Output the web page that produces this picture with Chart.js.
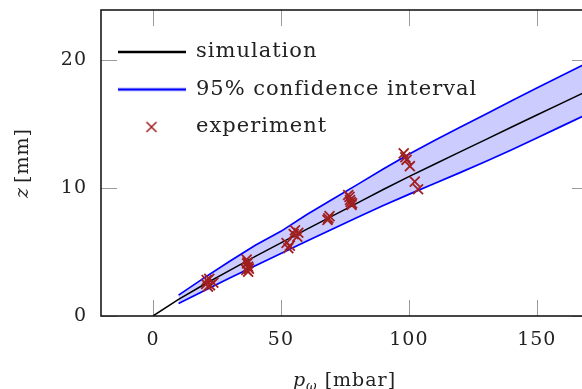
<!DOCTYPE html>
<html>
<head>
<meta charset="utf-8">
<script src="https://cdn.jsdelivr.net/npm/chart.js@4.4.1/dist/chart.umd.min.js"></script>
<style>
  html, body { margin: 0; padding: 0; background: #fff; overflow: hidden; }
  #zchart { display: block; }
</style>
</head>
<body>
<canvas id="zchart" width="600" height="389"></canvas>
<script>
// simulated height over pressure
const simP = [0, 10, 20, 30, 40, 50, 60, 70, 80, 90, 100, 110, 120, 130, 140, 150, 160, 170];
const simZ = [0, 1.30, 2.46, 3.57, 4.65, 5.71, 6.76, 7.80, 8.83, 9.88, 10.88, 11.85, 12.82, 13.78, 14.74, 15.70, 16.65, 17.60];

// 95% band (starts at 10 mbar)
const ciP = [10, 20, 30, 40, 50, 60, 70, 80, 90, 100, 110, 120, 130, 140, 150, 160, 170];
const ciUpper = [1.63, 2.98, 4.27, 5.52, 6.61, 7.91, 9.10, 10.28, 11.48, 12.63, 13.70, 14.74, 15.76, 16.79, 17.80, 18.80, 19.80];
const ciLower = [0.98, 1.98, 2.97, 3.93, 4.89, 5.84, 6.78, 7.71, 8.63, 9.50, 10.35, 11.20, 12.06, 12.96, 13.90, 14.85, 15.80];

// measurements
const expP = [21.0, 22.3, 23.6, 21.5, 22.0, 20.8,
              36.6, 37.2, 37.2, 36.8, 37.5, 36.5, 37.0,
              55.5, 56.4, 52.2, 52.9, 55.0, 56.8, 53.5,
              68.5, 69.0, 68.2,
              76.3, 77.0, 77.6, 76.8, 77.3, 77.8,
              98.0, 98.6, 99.1, 100.4, 102.3, 103.6];
const expZ = [2.8, 2.4, 2.6, 2.3, 2.9, 2.5,
              4.4, 3.85, 3.46, 4.1, 3.7, 3.6, 4.2,
              6.7, 6.2, 5.7, 5.3, 6.4, 6.5, 5.5,
              7.63, 7.8, 7.5,
              9.45, 9.06, 8.67, 9.3, 8.9, 8.8,
              12.7, 12.4, 12.2, 11.7, 10.5, 9.9];

const xTicks = [0, 50, 100, 150];
const yTicks = [0, 10, 20];

const serif = 'DejaVu Serif';
const textColor = '#222';
const expColor = '#a01f1f';
const bandFill = 'rgb(204,204,255)';
const tickLen = 16;

function pts(xs, ys) {
    return xs.map(function(v, i) { return { x: v, y: ys[i] }; });
}

// small pictures for the legend
function lineSample(color) {
    let c = document.createElement('canvas');
    c.width = 68; c.height = 6;
    let g = c.getContext('2d');
    g.strokeStyle = color; g.lineWidth = 2.4;
    g.beginPath(); g.moveTo(0, 3); g.lineTo(68, 3); g.stroke();
    return c;
}
function crossSample(color) {
    let c = document.createElement('canvas');
    c.width = 16; c.height = 16;
    let g = c.getContext('2d');
    g.strokeStyle = color; g.lineWidth = 1.5;
    g.beginPath();
    g.moveTo(3, 3); g.lineTo(13, 13);
    g.moveTo(13, 3); g.lineTo(3, 13);
    g.stroke();
    return c;
}

// the reference lettering runs wide; chart.js resets the canvas on init,
// so put the spacing back before measuring and before drawing
const spacingPlugin = {
    id: 'spacing',
    beforeUpdate(chart) { chart.ctx.letterSpacing = '1px'; },
    beforeDraw(chart) { chart.ctx.letterSpacing = '1px'; }
};

const framePlugin = {
    id: 'frame',
    beforeDatasetsDraw(chart) {
        let ctx = chart.ctx, a = chart.chartArea;
        let x = chart.scales.x, y = chart.scales.y;
        ctx.save();
        ctx.strokeStyle = '#9a9a9a';
        ctx.lineWidth = 1;
        ctx.beginPath();
        xTicks.forEach(function(v) {
            let px = Math.round(x.getPixelForValue(v)) + 0.5;
            ctx.moveTo(px, a.bottom); ctx.lineTo(px, a.bottom - tickLen);
            ctx.moveTo(px, a.top); ctx.lineTo(px, a.top + tickLen);
        });
        yTicks.forEach(function(v) {
            let py = Math.round(y.getPixelForValue(v)) + 0.5;
            ctx.moveTo(a.left, py); ctx.lineTo(a.left + tickLen, py);
            ctx.moveTo(a.right, py); ctx.lineTo(a.right - tickLen, py);
        });
        ctx.stroke();
        ctx.restore();
    },
    afterDatasetsDraw(chart) {
        let ctx = chart.ctx, a = chart.chartArea;
        ctx.save();
        ctx.strokeStyle = '#1a1a1a';
        ctx.lineWidth = 1.6;
        ctx.strokeRect(a.left, a.top, a.right - a.left, a.bottom - a.top);

        ctx.fillStyle = textColor;
        ctx.textBaseline = 'alphabetic';
        ctx.textAlign = 'left';

        // x title: p_omega [mbar]
        let fMain = '19px "' + serif + '"';
        let fItal = 'italic 19px "' + serif + '"';
        let fSub = 'italic 13px "' + serif + '"';
        ctx.font = fItal; let wP = ctx.measureText('p').width;
        ctx.font = fSub; let wW = ctx.measureText('ω').width;
        ctx.font = fMain; let wU = ctx.measureText(' [mbar]').width;
        let cx = (a.left + a.right) / 2;
        let sx = cx - (wP + wW + wU) / 2;
        let base = 386;
        ctx.font = fItal; ctx.fillText('p', sx, base);
        ctx.font = fSub; ctx.fillText('ω', sx + wP, base + 4);
        ctx.font = fMain; ctx.fillText(' [mbar]', sx + wP + wW, base);

        // y title: z [mm]
        ctx.translate(28, (a.top + a.bottom) / 2);
        ctx.rotate(-Math.PI / 2);
        ctx.font = fItal; let wZ = ctx.measureText('z').width;
        ctx.font = fMain; let wM = ctx.measureText('[mm]').width;
        let gap = 4;
        let sy = -(wZ + gap + wM) / 2;
        ctx.font = fItal; ctx.fillText('z', sy, 0);
        ctx.font = fMain; ctx.fillText('[mm]', sy + wZ + gap, 0);
        ctx.restore();
    }
};

let ctx = document.getElementById('zchart').getContext('2d');

let zChart = new Chart(ctx, {
    type: 'scatter',
    data: {
        datasets: [{
            label: 'simulation',
            data: pts(simP, simZ),
            showLine: true,
            borderColor: '#000',
            borderWidth: 1.5,
            pointRadius: 0,
            fill: false,
            order: 1
        }, {
            label: '95% confidence interval',
            data: pts(ciP, ciUpper),
            showLine: true,
            borderColor: '#0000ff',
            borderWidth: 1.7,
            backgroundColor: bandFill,
            pointRadius: 0,
            fill: '+1',
            order: 3
        }, {
            label: 'lower',
            data: pts(ciP, ciLower),
            showLine: true,
            borderColor: '#0000ff',
            borderWidth: 1.7,
            pointRadius: 0,
            fill: false,
            order: 2
        }, {
            label: 'experiment',
            data: pts(expP, expZ),
            showLine: false,
            pointStyle: 'crossRot',
            pointRadius: 7,
            borderColor: expColor,
            borderWidth: 1.8,
            order: 0
        }]
    },
    options: {
        responsive: false,
        animation: false,
        events: [],
        layout: { padding: { top: 10, right: 12, left: 0, bottom: 0 } },
        plugins: {
            tooltip: { enabled: false },
            legend: {
                position: 'chartArea',
                align: 'start',
                title: { display: true, text: ' ', font: { size: 10 }, padding: 6.5 },
                labels: {
                    usePointStyle: true,
                    pointStyleWidth: 68,
                    padding: 16.5,
                    color: textColor,
                    font: { family: serif, size: 21 },
                    generateLabels: function() {
                        return [
                            { text: 'simulation', pointStyle: lineSample('#000'), fontColor: textColor, lineWidth: 0, strokeStyle: 'rgba(0,0,0,0)', fillStyle: 'rgba(0,0,0,0)', hidden: false, datasetIndex: 0 },
                            { text: '95% confidence interval', pointStyle: lineSample('#0000ff'), fontColor: textColor, lineWidth: 0, strokeStyle: 'rgba(0,0,0,0)', fillStyle: 'rgba(0,0,0,0)', hidden: false, datasetIndex: 1 },
                            { text: 'experiment', pointStyle: crossSample(expColor), fontColor: textColor, lineWidth: 0, strokeStyle: 'rgba(0,0,0,0)', fillStyle: 'rgba(0,0,0,0)', hidden: false, datasetIndex: 3 }
                        ];
                    }
                }
            },
            filler: { propagate: false }
        },
        scales: {
            x: {
                type: 'linear',
                min: -20.3,
                max: 170,
                grid: { display: false },
                border: { display: false },
                afterFit: function(s) { s.height = 73; s.paddingLeft = 0; s.paddingRight = 0; },
                afterBuildTicks: function(s) { s.ticks = xTicks.map(function(v) { return { value: v }; }); },
                ticks: {
                    padding: 5,
                    maxRotation: 0,
                    autoSkip: false,
                    color: textColor,
                    font: { family: serif, size: 19 }
                }
            },
            y: {
                type: 'linear',
                min: 0,
                max: 23.9,
                grid: { display: false },
                border: { display: false },
                afterFit: function(s) { s.width = 101; s.paddingTop = 0; s.paddingBottom = 0; },
                afterBuildTicks: function(s) { s.ticks = yTicks.map(function(v) { return { value: v }; }); },
                ticks: {
                    padding: 6,
                    color: textColor,
                    font: { family: serif, size: 19 }
                }
            }
        }
    },
    plugins: [spacingPlugin, framePlugin]
});
</script>
</body>
</html>
